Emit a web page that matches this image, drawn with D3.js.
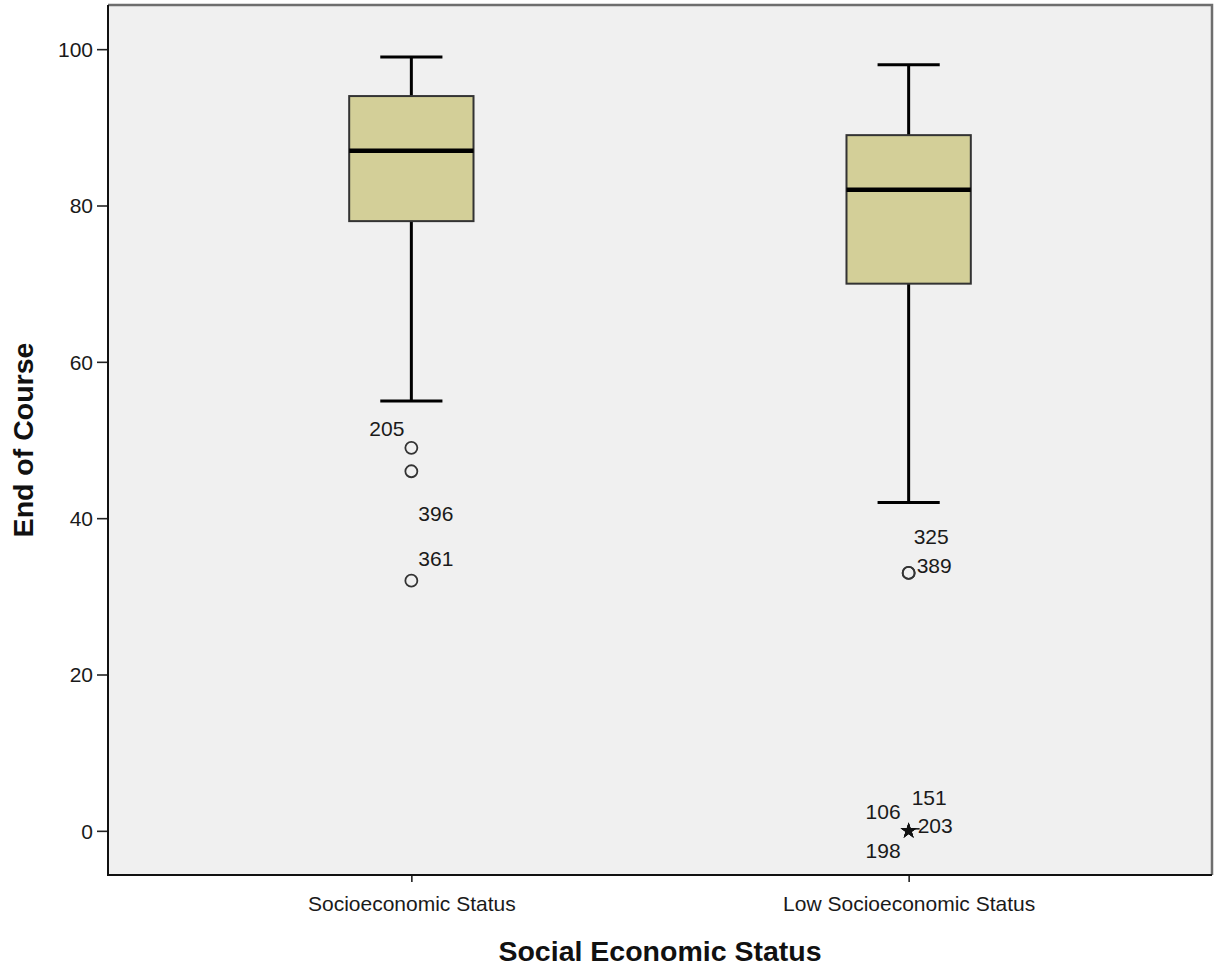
<!DOCTYPE html>
<html><head><meta charset="utf-8">
<script src="https://cdn.jsdelivr.net/npm/d3@7/dist/d3.min.js"></script>
<style>html,body{margin:0;padding:0;background:#fff;}svg{display:block;}</style>
</head><body>
<script>
// ---- data ----
const categories = ["Socioeconomic Status", "Low Socioeconomic Status"];
const whiskerLow  = [55, 42];
const q1          = [78, 70];
const median      = [87, 82];
const q3          = [94, 89];
const whiskerHigh = [99, 98];
// outliers (circle) and extremes (star): category index, value, case label
const outlierCat   = [0, 0, 0, 1, 1];
const outlierVal   = [49, 46, 32, 33, 33];
const outlierLabel = ["205", "396", "361", "325", "389"];
const extremeCat   = [1, 1, 1, 1];
const extremeVal   = [0, 0, 0, 0];
const extremeLabel = ["151", "106", "203", "198"];
const yTicks = [0, 20, 40, 60, 80, 100];
const xTitle = "Social Economic Status";
const yTitle = "End of Course";

// ---- layout ----
const W = 1217, H = 966;
const plot = {left: 108, right: 1212, top: 5, bottom: 875};
// label placement offsets relative to the point (dx, baseline dy, anchor)
const labelPos = {
  "205": [-7, -12, "end"], "396": [7, 50, "start"], "361": [7, -15, "start"],
  "325": [5, -29, "start"], "389": [8, 0, "start"],
  "151": [3, -26, "start"], "106": [-8, -12, "end"], "203": [9, 2, "start"], "198": [-8, 27, "end"]
};
const FONT = "'Liberation Sans', Arial, sans-serif";

const svg = d3.select("body").append("svg").attr("width", W).attr("height", H);

const y = d3.scaleLinear().domain([-5.65, 105.65]).range([plot.bottom, plot.top]);
const x = d3.scalePoint().domain(categories).range([plot.left, plot.right]).padding(0.61);
const boxW = x.step() * 0.25;
const capW = boxW / 2;

// background
svg.append("rect").attr("x", plot.left).attr("y", plot.top)
  .attr("width", plot.right - plot.left).attr("height", plot.bottom - plot.top)
  .attr("fill", "#f0f0f0");
// frame top/right (gray)
svg.append("path").attr("d", `M${plot.left},${plot.top}H${plot.right}V${plot.bottom}`)
  .attr("fill", "none").attr("stroke", "#6e6e6e").attr("stroke-width", 2.5);

// y axis
const yAxis = d3.axisLeft(y).tickValues(yTicks).tickSize(11).tickPadding(4).tickSizeOuter(0);
const gy = svg.append("g").attr("transform", `translate(${plot.left},0)`).call(yAxis);
gy.select(".domain").remove();
gy.selectAll(".tick line").attr("stroke", "#222").attr("stroke-width", 1.6);
gy.selectAll(".tick text").attr("font-family", FONT).attr("font-size", 21).attr("fill", "#1a1a1a").attr("dy", "0.35em");

// x axis
const xAxis = d3.axisBottom(x).tickSize(7).tickPadding(14).tickSizeOuter(0);
const gx = svg.append("g").attr("transform", `translate(0,${plot.bottom})`).call(xAxis);
gx.select(".domain").remove();
gx.selectAll(".tick line").attr("stroke", "#222").attr("stroke-width", 1.6);
gx.selectAll(".tick text").attr("font-family", FONT).attr("font-size", 21).attr("fill", "#1a1a1a").attr("dy", "0.71em");

// frame left/bottom (black)
svg.append("path").attr("d", `M${plot.left},${plot.top}V${plot.bottom}H${plot.right}`)
  .attr("fill", "none").attr("stroke", "#111").attr("stroke-width", 2);

// boxes
const boxes = categories.map((c, i) => ({c, lo: whiskerLow[i], q1: q1[i], med: median[i], q3: q3[i], hi: whiskerHigh[i]}));
const g = svg.append("g");
boxes.forEach(b => {
  const cx = x(b.c);
  g.append("line").attr("x1", cx).attr("x2", cx).attr("y1", y(b.hi)).attr("y2", y(b.q3)).attr("stroke", "#000").attr("stroke-width", 3);
  g.append("line").attr("x1", cx).attr("x2", cx).attr("y1", y(b.q1)).attr("y2", y(b.lo)).attr("stroke", "#000").attr("stroke-width", 3);
  g.append("line").attr("x1", cx - capW / 2).attr("x2", cx + capW / 2).attr("y1", y(b.hi)).attr("y2", y(b.hi)).attr("stroke", "#000").attr("stroke-width", 3);
  g.append("line").attr("x1", cx - capW / 2).attr("x2", cx + capW / 2).attr("y1", y(b.lo)).attr("y2", y(b.lo)).attr("stroke", "#000").attr("stroke-width", 3);
  g.append("rect").attr("x", cx - boxW / 2).attr("y", y(b.q3)).attr("width", boxW).attr("height", y(b.q1) - y(b.q3))
    .attr("fill", "#d3cf98").attr("stroke", "#333").attr("stroke-width", 2);
  g.append("line").attr("x1", cx - boxW / 2).attr("x2", cx + boxW / 2).attr("y1", y(b.med)).attr("y2", y(b.med)).attr("stroke", "#000").attr("stroke-width", 4.5);
});

// outliers
const outliers = outlierVal.map((v, i) => ({c: categories[outlierCat[i]], v, lab: outlierLabel[i]}));
outliers.forEach(o => {
  g.append("circle").attr("cx", x(o.c)).attr("cy", y(o.v)).attr("r", 6)
    .attr("fill", "none").attr("stroke", "#333").attr("stroke-width", 1.8);
});
const extremes = extremeVal.map((v, i) => ({c: categories[extremeCat[i]], v, lab: extremeLabel[i]}));
const star = d3.symbol().type(d3.symbolStar).size(80);
extremes.forEach(o => {
  g.append("path").attr("d", star).attr("transform", `translate(${x(o.c)},${y(o.v)})`).attr("fill", "#111");
});
g.append("line").attr("x1", x(categories[1]) + 5).attr("x2", x(categories[1]) + 11)
  .attr("y1", y(0) - 2).attr("y2", y(0) - 2).attr("stroke", "#111").attr("stroke-width", 1.5);

// labels
outliers.concat(extremes).forEach(o => {
  const p = labelPos[o.lab];
  g.append("text").attr("x", x(o.c) + p[0]).attr("y", y(o.v) + p[1]).attr("text-anchor", p[2])
    .attr("font-family", FONT).attr("font-size", 21).attr("fill", "#1a1a1a").text(o.lab);
});

// axis titles
svg.append("text").attr("x", (plot.left + plot.right) / 2).attr("y", 961).attr("text-anchor", "middle")
  .attr("font-family", FONT).attr("font-weight", "bold").attr("font-size", 28.5).attr("fill", "#111").text(xTitle);
svg.append("text").attr("transform", `translate(33,440) rotate(-90)`).attr("text-anchor", "middle")
  .attr("font-family", FONT).attr("font-weight", "bold").attr("font-size", 28.5).attr("fill", "#111").text(yTitle);
</script>
</body></html>
